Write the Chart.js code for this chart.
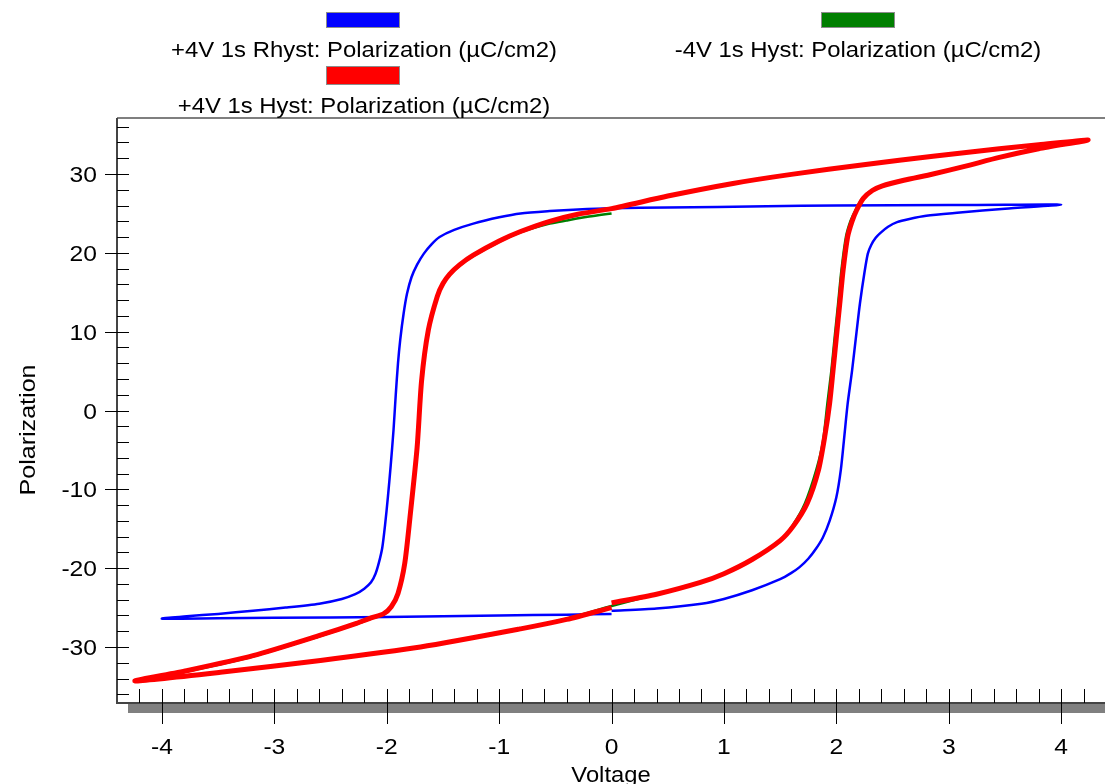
<!DOCTYPE html>
<html>
<head>
<meta charset="utf-8">
<script src="https://cdn.jsdelivr.net/npm/chart.js@4.4.1/dist/chart.umd.min.js"></script>
<style>
  html, body { margin: 0; padding: 0; background: #fff; }
  #wrap { width: 1105px; height: 784px; }
</style>
</head>
<body>
<div id="wrap"><canvas id="loopChart" width="1105" height="784"></canvas></div>
<script>
// +4V 1s Rhyst (blue) - voltage / polarization, in sweep order
const rhystV = [0, 0.4, 0.8, 1.0, 1.25, 1.5, 1.6, 1.67, 1.75, 1.82, 1.88, 1.94, 2.0, 2.04, 2.07, 2.1, 2.14, 2.18, 2.21, 2.25,
  2.28, 2.31, 2.35, 2.39, 2.46, 2.54, 2.65, 2.8, 3.1, 3.5, 4.0,
  3.5, 3.0, 2.0, 1.38, 0.5, 0, -0.3, -0.55, -0.81, -1.0, -1.23, -1.4, -1.53, -1.6, -1.67, -1.73, -1.78, -1.82, -1.85, -1.88,
  -1.9, -1.92, -1.94, -1.965, -1.99, -2.015, -2.04, -2.07, -2.1, -2.14, -2.2, -2.28, -2.4, -2.6, -2.9, -3.19, -3.5, -3.78, -4.0,
  -3.5, -3.0, -2.0, -1.0, -0.4, 0];
const rhystP = [-25.4, -25.1, -24.5, -23.9, -22.8, -21.4, -20.6, -19.9, -18.8, -17.5, -16.1, -14.0, -11.0, -7.5, -3.4, 0.8, 5.1, 10.0, 13.6, 17.5,
  19.9, 21.0, 21.9, 22.5, 23.3, 23.9, 24.3, 24.7, 25.1, 25.6, 26.1,
  26.1, 26.05, 26.0, 25.9, 25.75, 25.65, 25.5, 25.3, 25.0, 24.5, 23.7, 22.9, 22.0, 21.1, 19.9, 18.5, 16.9, 14.8, 12.3, 9.0,
  6.0, 2.0, -2.5, -7.0, -11.0, -14.5, -17.4, -19.3, -20.7, -21.8, -22.6, -23.3, -23.9, -24.5, -25.0, -25.4, -25.8, -26.1, -26.4,
  -26.35, -26.3, -26.2, -26.0, -25.9, -25.8];

// -4V 1s Hyst (green), mostly hidden under the red one
const negHystV = [0, -0.2, -0.4, -0.55, -0.81, -1.0, -1.23, -1.35, -1.44, -1.5, -1.55, -1.63, -1.69, -1.73, -1.79, -1.84, -1.9, -1.96, -2.03, -2.14,
  -2.27, -2.59, -3.19, -3.78, -4.24,
  -3.48, -2.59, -1.70, -0.81, -0.4, 0, 0.4, 0.79, 1.0, 1.25, 1.5, 1.61, 1.72, 1.82, 1.88, 1.92, 1.955, 1.985, 2.015, 2.045,
  2.085, 2.125, 2.17, 2.23, 2.31, 2.41, 2.6, 2.86, 3.15, 3.45, 3.8, 4.24,
  3.8, 3.45, 2.86, 2.26, 1.6, 1.08, 0.5, 0];
const negHystP = [25.0, 24.6, 24.1, 23.7, 22.6, 21.4, 19.6, 18.4, 17.2, 16.0, 14.5, 10.1, 3.7, -4.8, -13.2, -19.5, -23.3, -25.0, -25.9, -26.4,
  -27.1, -28.6, -31.2, -33.1, -34.3,
  -33.2, -31.7, -30.0, -27.7, -26.4, -24.8, -23.3, -21.8, -20.7, -18.9, -16.5, -14.6, -11.8, -7.6, -4.0, 0.9, 5.0, 9.3, 13.5, 17.8,
  22.0, 24.0, 25.4, 26.9, 27.9, 28.5, 29.2, 30.0, 31.0, 32.1, 33.2, 34.3,
  33.7, 33.2, 32.25, 31.2, 29.95, 28.8, 27.2, 25.6];

// +4V 1s Hyst (red)
const hystV = [0, 0.4, 0.79, 1.0, 1.25, 1.5, 1.62, 1.74, 1.84, 1.9, 1.94, 1.97, 2.0, 2.03, 2.06, 2.1, 2.14, 2.18, 2.24, 2.32,
  2.41, 2.6, 2.86, 3.15, 3.45, 3.8, 4.24,
  3.8, 3.45, 2.86, 2.26, 1.6, 1.08, 0.5, 0, -0.3, -0.55, -0.81, -1.0, -1.23, -1.35, -1.44, -1.5, -1.55, -1.63, -1.69, -1.73,
  -1.79, -1.84, -1.9, -1.96, -2.03, -2.14, -2.27, -2.59, -3.19, -3.78, -4.24,
  -3.48, -2.59, -1.70, -0.81, -0.4, 0];
const hystP = [-24.4, -23.3, -21.8, -20.7, -18.9, -16.5, -14.6, -11.8, -7.6, -3.0, 0.9, 5.0, 9.3, 13.5, 17.8, 22.0, 24.0, 25.4, 26.9, 27.9,
  28.5, 29.2, 30.0, 31.0, 32.1, 33.2, 34.3,
  33.7, 33.2, 32.25, 31.2, 29.95, 28.8, 27.2, 25.6, 24.9, 24.0, 22.7, 21.5, 19.7, 18.5, 17.3, 16.1, 14.5, 10.2, 3.8, -4.7,
  -13.1, -19.4, -23.2, -24.9, -25.8, -26.3, -27.0, -28.5, -31.1, -33.0, -34.3,
  -33.2, -31.7, -30.0, -27.7, -26.5, -25.0];

const seriesLabels = [
  "+4V 1s Rhyst: Polarization (µC/cm2)",
  "-4V 1s Hyst: Polarization (µC/cm2)",
  "+4V 1s Hyst: Polarization (µC/cm2)"
];
const xTickLabels = [-4, -3, -2, -1, 0, 1, 2, 3, 4];
const yTickLabels = [-30, -20, -10, 0, 10, 20, 30];

const FONT = '22px "Liberation Sans", Arial, sans-serif';

function toPoints(v, p) {
  return v.map((x, i) => ({ x: x, y: p[i] }));
}

// the original text is a little wider than Arial, so stretch along the text
function wideText(ctx, str, x, y, align, stretch, angle) {
  ctx.save();
  ctx.translate(x, y);
  if (angle) ctx.rotate(angle);
  ctx.scale(stretch, 1);
  ctx.font = FONT;
  ctx.fillStyle = "#000";
  ctx.textAlign = align;
  ctx.textBaseline = "alphabetic";
  ctx.fillText(str, 0, 0);
  ctx.restore();
}

// frame, grey shadow bar, inward ticks and all axis text
const axesPlugin = {
  id: "axesPlugin",
  afterDatasetsDraw(chart) {
    const ctx = chart.ctx;
    const a = chart.chartArea;
    const xs = chart.scales.x, ys = chart.scales.y;
    ctx.save();

    ctx.fillStyle = "#808080";
    ctx.fillRect(a.left + 11, a.bottom, a.right - a.left - 11, 10);

    ctx.strokeStyle = "#555";
    ctx.lineWidth = 1.5;
    ctx.beginPath();
    ctx.moveTo(a.left, a.top);
    ctx.lineTo(a.right, a.top);
    ctx.stroke();
    ctx.strokeStyle = "#444";
    ctx.lineWidth = 2;
    ctx.beginPath();
    ctx.moveTo(a.left, a.top);
    ctx.lineTo(a.left, a.bottom);
    ctx.lineTo(a.right, a.bottom);
    ctx.stroke();

    ctx.strokeStyle = "#000";
    ctx.lineWidth = 1;
    ctx.beginPath();
    for (let k = -42; k <= 42; k += 2) {
      if (k % 10 === 0) continue;
      const px = Math.round(xs.getPixelForValue(k / 10)) + 0.5;
      ctx.moveTo(px, a.bottom);
      ctx.lineTo(px, a.bottom - 14);
    }
    xTickLabels.forEach(v => {
      const px = Math.round(xs.getPixelForValue(v)) + 0.5;
      ctx.moveTo(px, a.bottom - 14);
      ctx.lineTo(px, a.bottom + 21);
    });
    for (let k = -36; k <= 36; k += 2) {
      if (k % 10 === 0) continue;
      const py = Math.round(ys.getPixelForValue(k)) + 0.5;
      ctx.moveTo(a.left, py);
      ctx.lineTo(a.left + 12, py);
    }
    yTickLabels.forEach(v => {
      const py = Math.round(ys.getPixelForValue(v)) + 0.5;
      ctx.moveTo(a.left - 12, py);
      ctx.lineTo(a.left + 12, py);
    });
    ctx.stroke();
    ctx.restore();

    xTickLabels.forEach(v => wideText(ctx, String(v), xs.getPixelForValue(v), 753.5, "center", 1.12));
    yTickLabels.forEach(v => wideText(ctx, String(v), 97, ys.getPixelForValue(v) + 8, "right", 1.12));
    wideText(ctx, "Voltage", (a.left + a.right) / 2, 781.5, "center", 1.08);
    wideText(ctx, "Polarization", 35, 430, "center", 1.14, -Math.PI / 2);
  }
};

// legend: colour box above its text, two columns
const legendSlots = [
  { x: 326, y: 12, w: 74, h: 15, tx: 364, ty: 57 },
  { x: 821, y: 12, w: 74, h: 15, tx: 858, ty: 57 },
  { x: 326, y: 66, w: 74, h: 18, tx: 364, ty: 112.5 }
];
const legendPlugin = {
  id: "legendPlugin",
  afterDraw(chart) {
    const ctx = chart.ctx;
    chart.data.datasets.forEach((ds, i) => {
      const s = legendSlots[i];
      ctx.save();
      ctx.fillStyle = ds.borderColor;
      ctx.fillRect(s.x, s.y, s.w, s.h);
      ctx.strokeStyle = "#8c8c8c";
      ctx.lineWidth = 1;
      ctx.strokeRect(s.x + 0.5, s.y + 0.5, s.w - 1, s.h);
      ctx.restore();
      wideText(ctx, ds.label, s.tx, s.ty, "center", 1.085);
    });
  }
};

const ctx = document.getElementById("loopChart").getContext("2d");
new Chart(ctx, {
  type: "scatter",
  data: {
    datasets: [
      { label: seriesLabels[0], data: toPoints(rhystV, rhystP), borderColor: "#0000ff", borderWidth: 2.5, order: 2 },
      { label: seriesLabels[1], data: toPoints(negHystV, negHystP), borderColor: "#007f00", borderWidth: 2.5, order: 1 },
      { label: seriesLabels[2], data: toPoints(hystV, hystP), borderColor: "#ff0000", borderWidth: 5, order: 0 }
    ]
  },
  options: {
    responsive: false,
    animation: false,
    devicePixelRatio: 1,
    showLine: true,
    layout: { padding: { left: 117, top: 118, right: 0, bottom: 81 } },
    elements: {
      point: { radius: 0, hoverRadius: 0 },
      line: { tension: 0.25, fill: false, borderJoinStyle: "round" }
    },
    scales: {
      x: { type: "linear", min: -4.4, max: 4.39, display: false },
      y: { type: "linear", min: -37.1, max: 37.1, display: false }
    },
    plugins: {
      legend: { display: false },
      tooltip: { enabled: false }
    }
  },
  plugins: [axesPlugin, legendPlugin]
});
</script>
</body>
</html>
